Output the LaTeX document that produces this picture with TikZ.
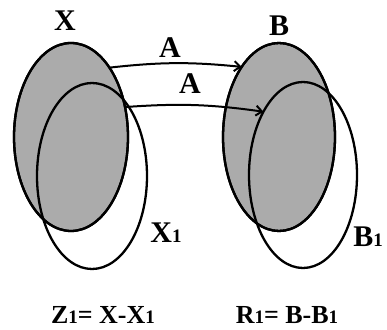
\documentclass[tikz,border=0pt]{standalone}
\usepackage{fontspec}
\setmainfont{Liberation Serif}
\usetikzlibrary{shapes.geometric,arrows.meta}
\tikzset{
  setshape/.style={ellipse, draw=black, line width=2.3pt, inner sep=0pt, outer sep=0pt},
  shaded/.style={fill=black!33},
  lbl/.style={font=\bfseries\fontsize{30}{30}\selectfont, inner sep=0pt},
  eqlbl/.style={font=\bfseries\fontsize{26}{26}\selectfont, inner sep=0pt},
  maparrow/.style={line width=2pt, -{Straight Barb[length=6pt,width=10pt,line width=2pt]}}
}
\newcommand{\smallone}{{\fontsize{19}{19}\selectfont 1}}
\begin{document}
\begin{tikzpicture}[x=1pt,y=1pt]
\useasboundingbox (0,0) rectangle (387,329);
% left pair
\node[setshape, shaded, minimum width=114pt, minimum height=188pt] (X) at (71,192) {};
\node[setshape, minimum width=110pt, minimum height=186pt] (X1) at (92,153) {};
\node[setshape, minimum width=114pt, minimum height=188pt] (Xb) at (71,192) {};
% right pair
\node[setshape, shaded, minimum width=112pt, minimum height=188pt] (B) at (279,192) {};
\node[setshape, minimum width=108pt, minimum height=186pt] (B1) at (303,154) {};
\node[setshape, minimum width=112pt, minimum height=188pt] (Bb) at (279,192) {};
% labels
\node[lbl] (lX) at (65,308) {X};
\node[lbl] (lB) at (279,303) {B};
\node[lbl] (lX1) at (166,96) {X\smallone};
\node[lbl] (lB1) at (368,92) {B\smallone};
\node[eqlbl] (z) at (103,14) {Z\smallone= X-X\smallone};
\node[eqlbl] (r) at (287,14) {R\smallone= B-B\smallone};
\node[lbl] (a1) at (170,281) {A};
\node[lbl] (a2) at (190,245) {A};
% arrows
\draw[maparrow] (Xb.61) to[bend left=6] (Bb.118);
\draw[maparrow] (Xb.29) to[bend left=6] (B1.122);
\end{tikzpicture}
\end{document}
